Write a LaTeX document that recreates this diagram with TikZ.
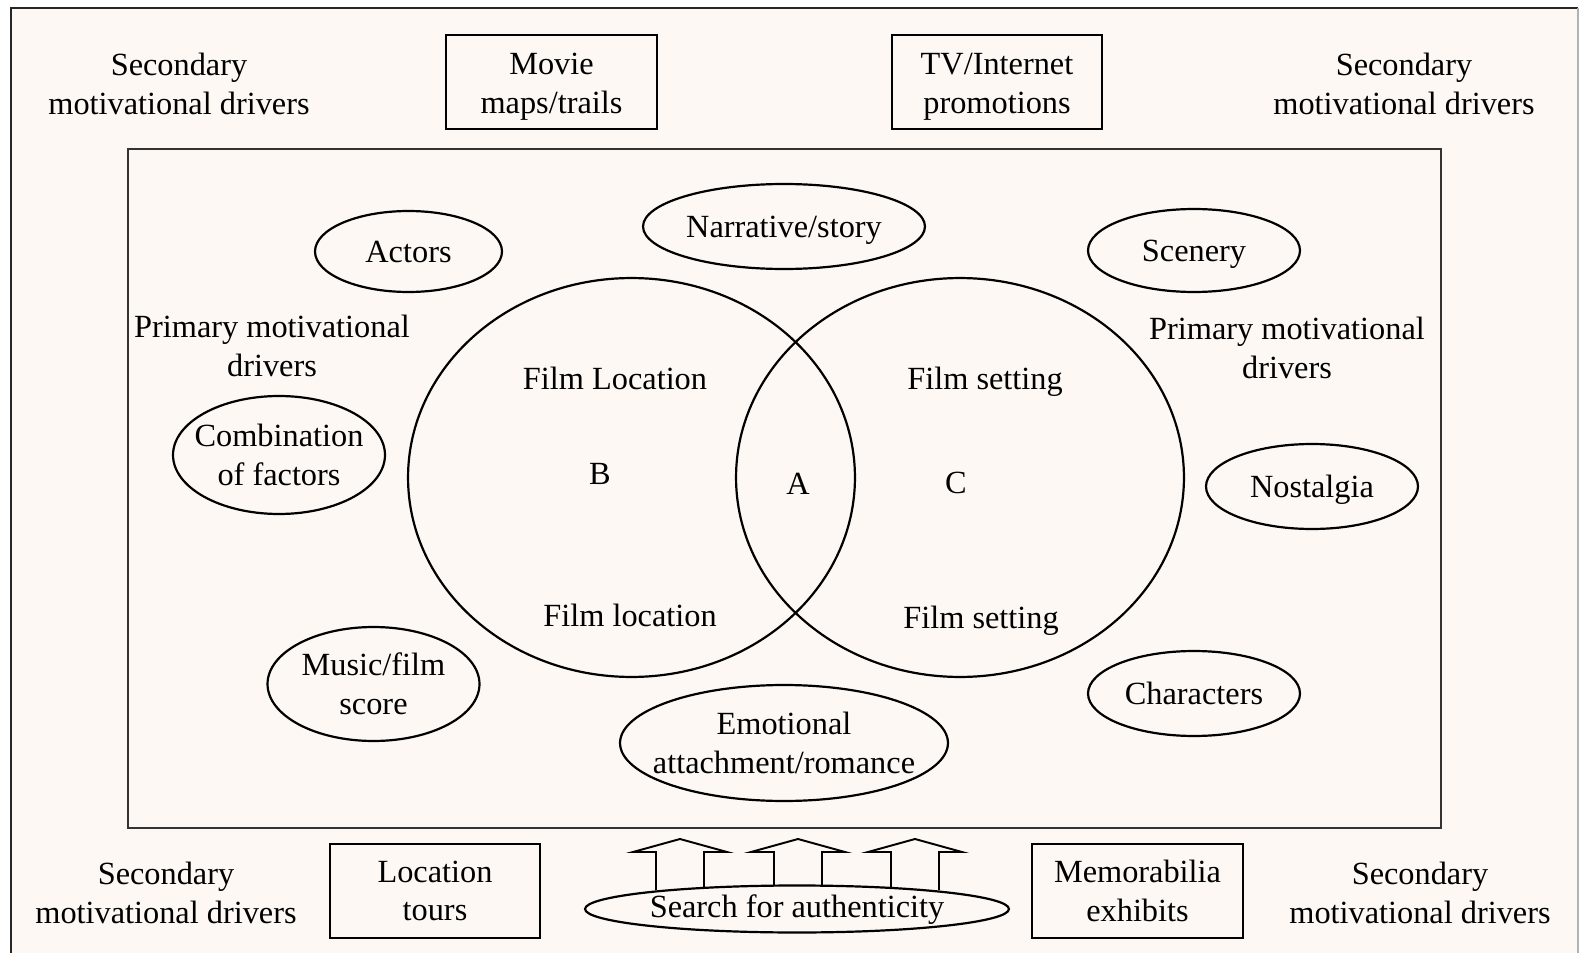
\documentclass[tikz,border=0pt]{standalone}
\usepackage{fontspec}
\setmainfont{Liberation Serif}
\usetikzlibrary{shapes.geometric, positioning}
\definecolor{paper}{RGB}{253,248,243}

\begin{document}
\begin{tikzpicture}[x=0.02cm, y=-0.02cm, line width=1.25pt,
    every node/.style={font=\fontsize{18.4}{22.1}\selectfont, align=center, inner sep=0pt},
    one/.style={text height=12.6pt, text depth=0pt},
    box/.style={draw, rectangle, minimum width=4.21cm, minimum height=1.87cm},
    oval/.style={draw, ellipse, inner sep=0pt, minimum width=4.24cm, minimum height=1.70cm}]
    \useasboundingbox (0,0) rectangle (1580,953);
    \fill [white] (0,0) rectangle (1580,953);
    \fill [paper] (11,8) rectangle (1578,953);
    \draw [line width=1.5pt, black!85] (11,953) -- (11,8) -- (1578,8);
    \draw [line width=0.6pt, black!30] (1578,8) -- (1578,953);
    \draw [line width=1.4pt, black!80] (128,149) rectangle (1441,828);

    % secondary drivers
    \node (sec1) at (179,84) {Secondary\\motivational drivers};
    \node (sec2) at (1404,84) {Secondary\\motivational drivers};
    \node (sec3) at (166,893) {Secondary\\motivational drivers};
    \node (sec4) at (1420,893) {Secondary\\motivational drivers};
    \node (movie) [box, label={[yshift=-0.1cm]center:Movie\\maps/trails}] at (551.5,82) {};
    \node (tv) [box, label={[yshift=-0.1cm]center:TV/Internet\\promotions}] at (997,82) {};
    \node (tours) [box] at (435,891) {Location\\tours};
    \node (memo) [box] at (1137.5,891) {Memorabilia\\exhibits};

    % primary drivers
    \node (prim1) at (272,346) {Primary motivational\\drivers};
    \node (prim2) at (1287,348) {Primary motivational\\drivers};
    \node (actors) [oval, one, minimum width=3.74cm, minimum height=1.62cm] at (408.5,251.5) {Actors};
    \node (story) [oval, one, minimum width=5.64cm] at (784,226.5) {Narrative/story};
    \node (scenery) [oval, one, minimum height=1.66cm] at (1194,250.5) {Scenery};
    \node (combi) [oval, minimum height=2.36cm,
      label={center:Combination\\of factors}] at (279,455) {};
    \node (nostalgia) [oval, one] at (1312,486.5) {Nostalgia};
    \node (music) [oval, minimum height=2.28cm,
      label={center:Music/film\\score}] at (373.5,684) {};
    \node (emotion) [oval, minimum width=6.56cm, minimum height=2.32cm,
      label={center:Emotional\\attachment/romance}] at (784,743) {};
    \node (chars) [oval, one] at (1194,693.5) {Characters};

    % the two sets
    \node (loc) [oval, minimum width=8.94cm, minimum height=7.98cm] at (631.5,477.5) {};
    \node (set) [oval, minimum width=8.96cm, minimum height=7.98cm] at (960,477.5) {};
    \node (locup) [one] at (615,378) {Film Location};
    \node (B) [one] at (600,473) {B};
    \node (locdown) [one] at (630,615) {Film location};
    \node (A) [one] at (798,483) {A};
    \node (setup) [one] at (985,378) {Film setting};
    \node (C) [one] at (956,482) {C};
    \node (setdown) [one] at (981,617) {Film setting};

    % search for authenticity
    \foreach \x in {680,798,915}
      \draw [line width=1.1pt] (\x-24,890) -- (\x-24,852) -- (\x-47,852) -- (\x,839)
        -- (\x+47,852) -- (\x+24,852) -- (\x+24,890);
    \node (search) [oval, one, text depth=3.4pt, fill=paper, minimum width=8.48cm, minimum height=0.94cm] at (797,909) {Search for authenticity};
\end{tikzpicture}
\end{document}
